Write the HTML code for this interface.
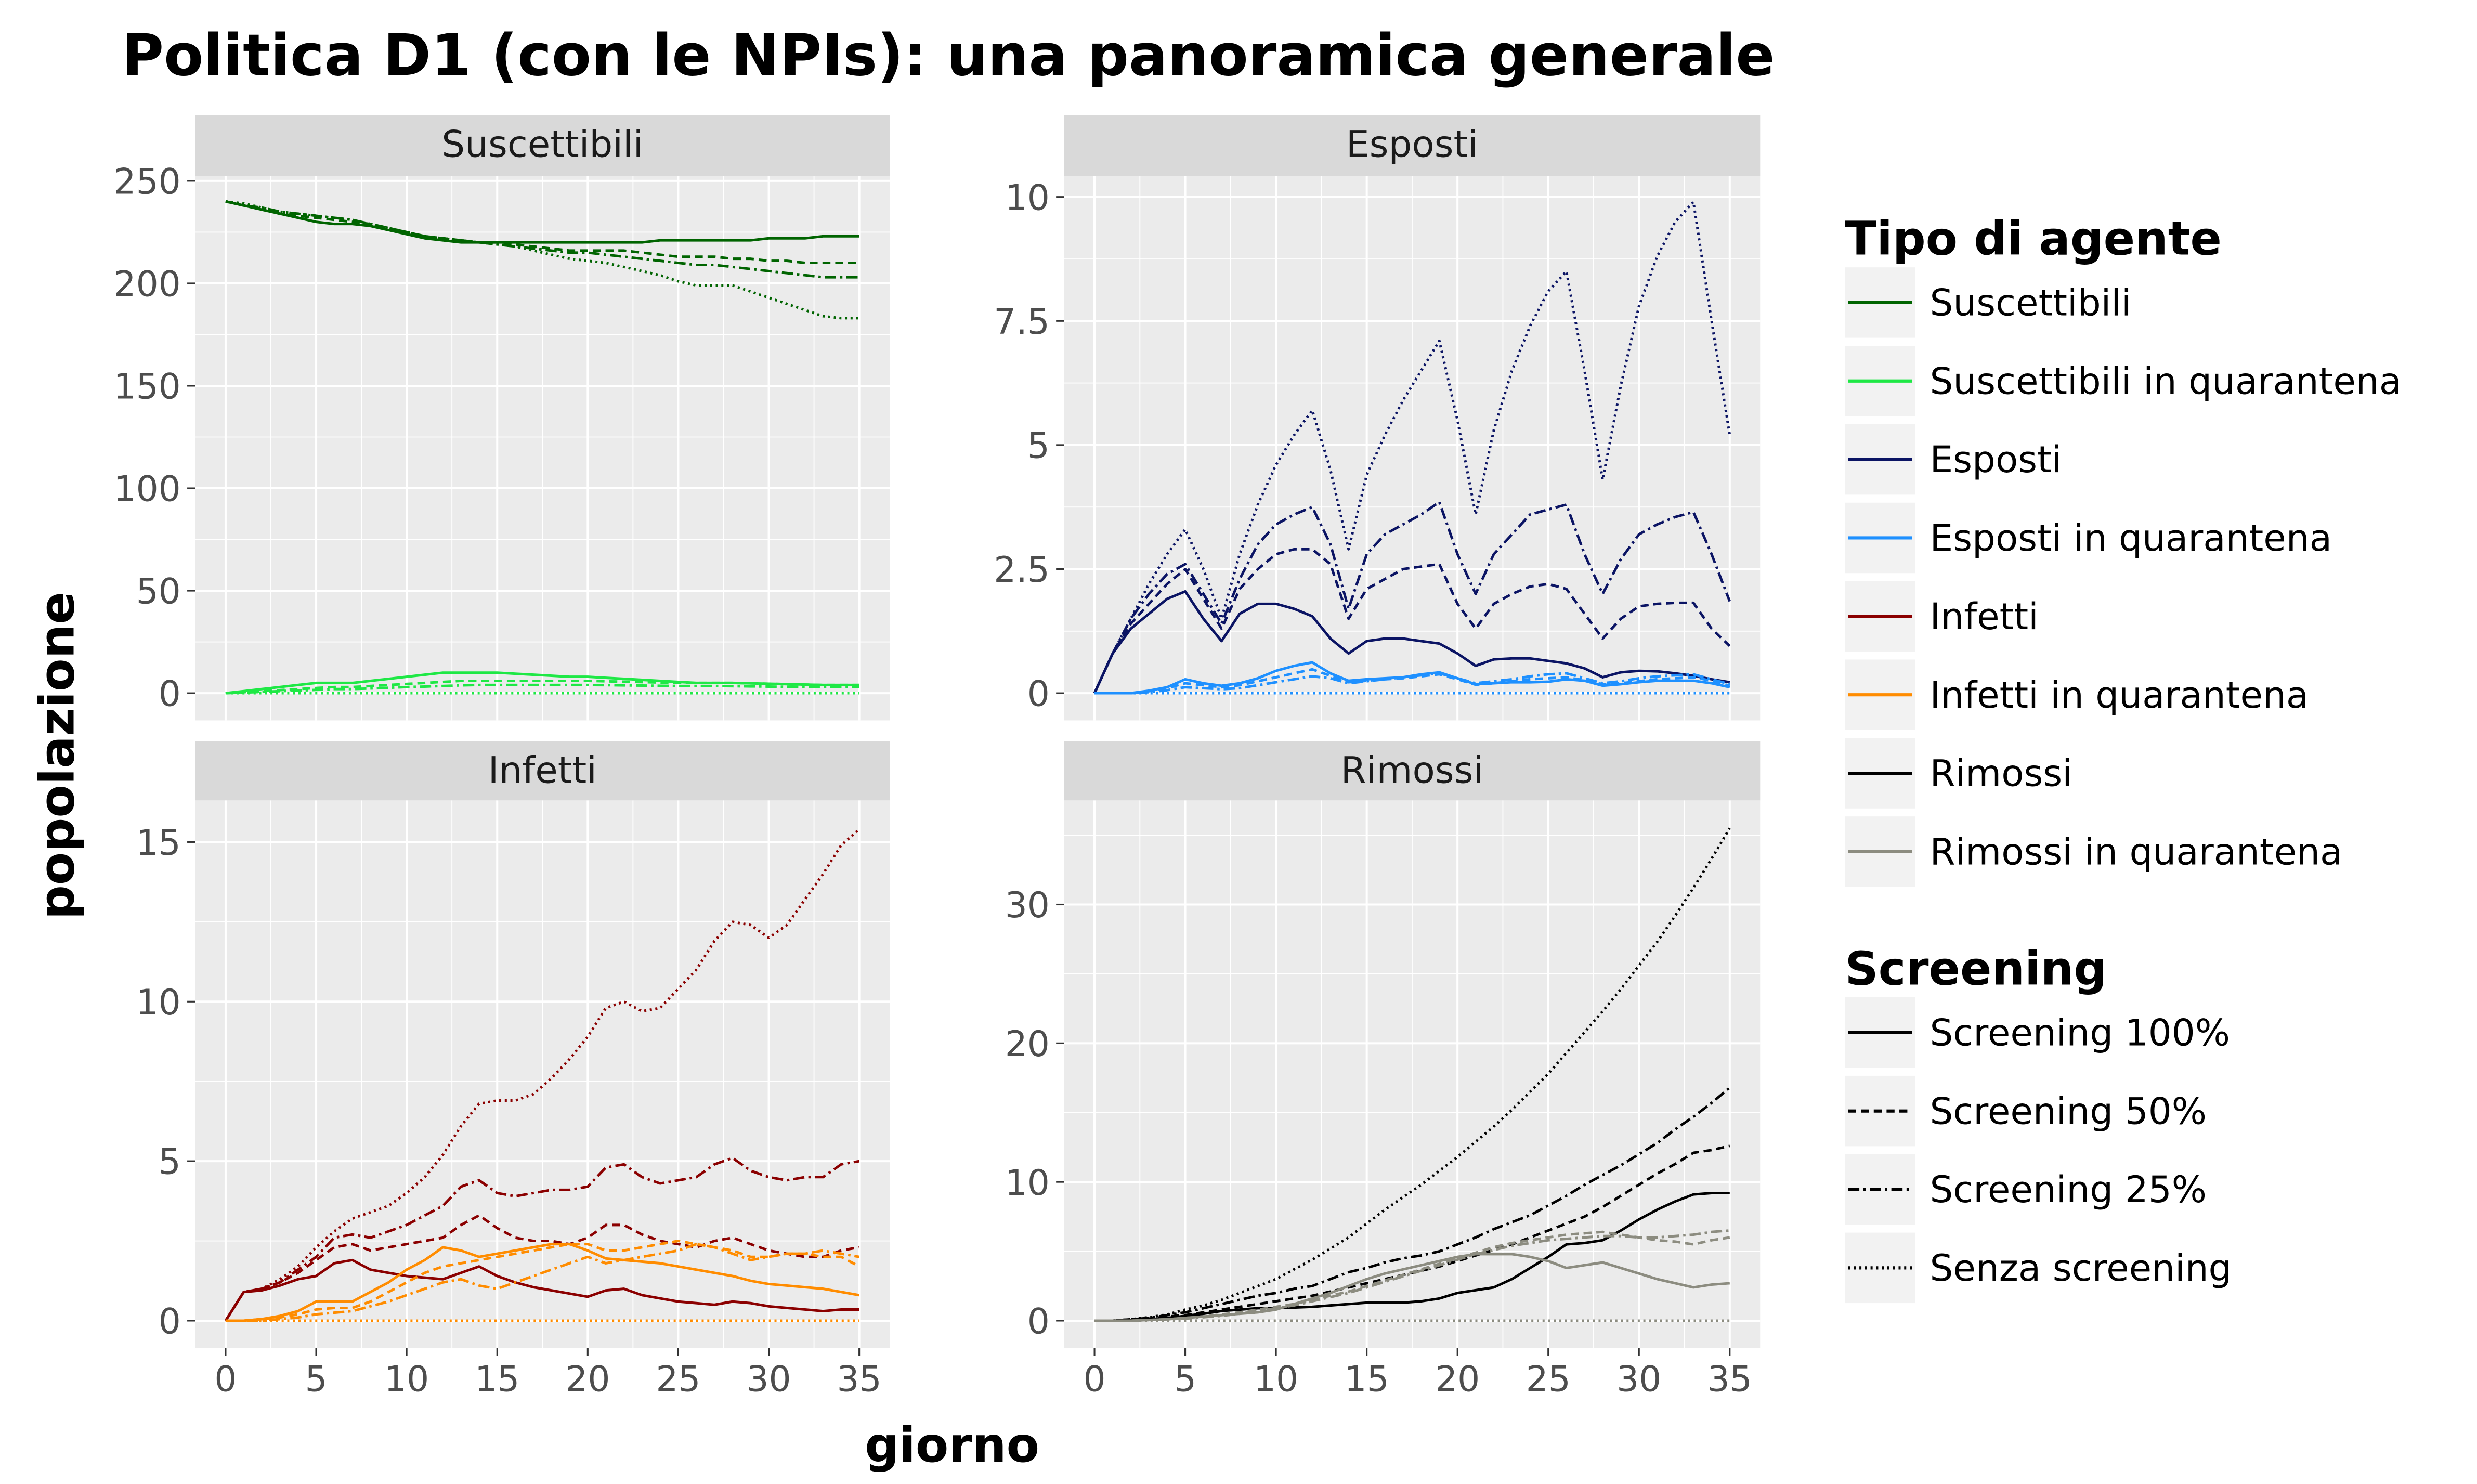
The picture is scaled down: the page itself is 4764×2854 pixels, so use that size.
<!DOCTYPE html>
<html><head><meta charset="utf-8"><style>
html,body{margin:0;padding:0;background:#fff;}
svg{display:block;font-family:"DejaVu Sans","Liberation Sans",sans-serif;}
</style></head><body>
<svg id="chart" xmlns="http://www.w3.org/2000/svg" width="4764" height="2854" viewBox="0 0 1548 927" preserveAspectRatio="none">
<rect x="0" y="0" width="1548" height="927" fill="#fff"/>
<text x="76" y="47" font-size="36" font-weight="bold" fill="#000">Politica D1 (con le NPIs): una panoramica generale</text>
<text transform="translate(46,472) rotate(-90)" text-anchor="middle" font-size="30" font-weight="bold">popolazione</text>
<text x="595" y="913" text-anchor="middle" font-size="30" font-weight="bold">giorno</text>
<g id="panels"></g>
<g id="legend"></g>
</svg>
<script>
const days = [0,1,2,3,4,5,6,7,8,9,10,11,12,13,14,15,16,17,18,19,20,21,22,23,24,25,26,27,28,29,30,31,32,33,34,35];
const xTicks = [0,5,10,15,20,25,30,35];
const scenarioNames = ["Screening 100%","Screening 50%","Screening 25%","Senza screening"];

const susS100 = [240,238,236,234,232,230,229,229,228,226,224,222,221,220,220,220,220,220,220,220,220,220,220,220,221,221,221,221,221,221,222,222,222,223,223,223];
const susS50  = [240,238,236,234,233,232,231,230,229,227,225,223,222,221,220,220,219,218,217,216,216,216,216,215,214,213,213,213,212,212,211,211,210,210,210,210];
const susS25  = [240,238,237,235,234,233,232,231,229,227,225,223,222,221,220,219,218,217,216,215,215,214,213,212,211,210,209,209,208,207,206,205,204,203,203,203];
const susS0   = [240,239,237,235,234,233,232,231,229,227,225,223,222,221,220,219,218,216,214,212,211,210,208,206,204,201,199,199,199,196,193,190,187,184,183,183];
const susQS100 = [0,1,2,3,4,5,5,5,6,7,8,9,10,10,10,10,9.5,9,8.5,8,8,7.5,7,6.5,6,5.5,5,5,5,4.8,4.6,4.4,4.2,4,4,4];
const susQS50  = [0,0.5,1,1.5,2,2.5,3,3,3.5,4,4.5,5,5.5,6,6,6,6,6,6,6,6,5.8,5.6,5.4,5.2,5,5,5,5,4.8,4.6,4.4,4.2,4,4,4];
const susQS25  = [0,0.3,0.6,1,1.3,1.6,2,2,2.3,2.6,3,3.2,3.5,3.8,4,4,4,4,4,4,4,3.9,3.8,3.7,3.6,3.5,3.5,3.5,3.4,3.3,3.2,3.1,3,3,3,3];
const susQS0   = [0,0,0,0,0,0,0,0,0,0,0,0,0,0,0,0,0,0,0,0,0,0,0,0,0,0,0,0,0,0,0,0,0,0,0,0];

const espS0   = [0,0.8,1.5,2.2,2.8,3.3,2.5,1.5,2.8,3.8,4.6,5.2,5.7,4.5,2.9,4.4,5.2,5.9,6.5,7.1,5.5,3.6,5.3,6.5,7.4,8.1,8.5,6.5,4.3,6.2,7.8,8.8,9.5,9.9,7.5,5.2];
const espS25  = [0,0.8,1.5,2.0,2.4,2.6,2.0,1.4,2.3,3.0,3.4,3.6,3.75,3.0,1.7,2.8,3.2,3.4,3.6,3.85,2.8,2.0,2.8,3.2,3.6,3.7,3.8,2.8,2.0,2.7,3.2,3.4,3.55,3.65,2.8,1.85];
const espS50  = [0,0.8,1.4,1.8,2.2,2.5,1.9,1.3,2.1,2.5,2.8,2.9,2.9,2.6,1.5,2.1,2.3,2.5,2.55,2.6,1.8,1.3,1.8,2.0,2.15,2.2,2.1,1.6,1.1,1.5,1.75,1.8,1.82,1.82,1.3,0.95];
const espS100 = [0,0.8,1.3,1.6,1.9,2.05,1.5,1.05,1.6,1.8,1.8,1.7,1.55,1.1,0.8,1.05,1.1,1.1,1.05,1.0,0.8,0.55,0.68,0.7,0.7,0.65,0.6,0.5,0.32,0.42,0.45,0.44,0.4,0.35,0.28,0.22];
const espQS100 = [0,0,0,0.05,0.12,0.28,0.2,0.15,0.2,0.3,0.45,0.55,0.62,0.4,0.25,0.28,0.3,0.32,0.38,0.42,0.3,0.18,0.2,0.22,0.22,0.23,0.28,0.25,0.15,0.18,0.22,0.25,0.25,0.25,0.2,0.12];
const espQS50  = [0,0,0,0.04,0.1,0.2,0.16,0.12,0.16,0.24,0.32,0.4,0.48,0.35,0.22,0.25,0.28,0.3,0.34,0.38,0.28,0.17,0.2,0.24,0.28,0.3,0.32,0.26,0.18,0.2,0.24,0.28,0.3,0.32,0.25,0.15];
const espQS25  = [0,0,0,0.02,0.06,0.12,0.1,0.08,0.1,0.16,0.22,0.28,0.34,0.3,0.2,0.24,0.28,0.32,0.36,0.4,0.3,0.2,0.24,0.28,0.34,0.38,0.4,0.3,0.2,0.24,0.3,0.34,0.36,0.38,0.28,0.18];
const espQS0   = [0,0,0,0,0,0,0,0,0,0,0,0,0,0,0,0,0,0,0,0,0,0,0,0,0,0,0,0,0,0,0,0,0,0,0,0];

const infS0   = [0,0.9,1.0,1.3,1.7,2.3,2.8,3.2,3.4,3.6,4.0,4.5,5.2,6.1,6.8,6.9,6.9,7.1,7.6,8.2,8.9,9.8,10.0,9.7,9.8,10.4,11.0,11.9,12.5,12.4,12.0,12.4,13.2,14.0,14.9,15.4];
const infS25  = [0,0.9,1.0,1.2,1.6,2.0,2.6,2.7,2.6,2.8,3.0,3.3,3.6,4.2,4.4,4.0,3.9,4.0,4.1,4.1,4.2,4.8,4.9,4.5,4.3,4.4,4.5,4.9,5.1,4.7,4.5,4.4,4.5,4.5,4.9,5.0];
const infS50  = [0,0.9,1.0,1.2,1.5,1.9,2.3,2.4,2.2,2.3,2.4,2.5,2.6,3.0,3.3,2.9,2.6,2.5,2.5,2.4,2.6,3.0,3.0,2.7,2.5,2.4,2.3,2.5,2.6,2.4,2.2,2.1,2.0,2.0,2.2,2.3];
const infS100 = [0,0.9,0.95,1.1,1.3,1.4,1.8,1.9,1.6,1.5,1.4,1.35,1.3,1.5,1.7,1.4,1.2,1.05,0.95,0.85,0.75,0.95,1.0,0.8,0.7,0.6,0.55,0.5,0.6,0.55,0.45,0.4,0.35,0.3,0.35,0.35];
const infQS100 = [0,0,0.05,0.15,0.3,0.6,0.6,0.6,0.9,1.2,1.6,1.9,2.3,2.2,2.0,2.1,2.2,2.3,2.4,2.4,2.2,1.95,1.9,1.85,1.8,1.7,1.6,1.5,1.4,1.25,1.15,1.1,1.05,1.0,0.9,0.8];
const infQS50  = [0,0,0.05,0.1,0.2,0.35,0.4,0.4,0.6,0.9,1.2,1.5,1.7,1.8,1.9,2.0,2.1,2.2,2.3,2.4,2.4,2.2,2.2,2.3,2.4,2.5,2.4,2.3,2.2,2.0,2.0,2.1,2.1,2.0,2.0,1.7];
const infQS25  = [0,0,0,0.05,0.1,0.2,0.25,0.3,0.45,0.6,0.8,1.0,1.2,1.3,1.1,1.0,1.2,1.4,1.6,1.8,2.0,1.8,1.9,2.0,2.1,2.2,2.4,2.3,2.1,1.9,2.0,2.1,2.1,2.2,2.1,2.0];
const infQS0   = [0,0,0,0,0,0,0,0,0,0,0,0,0,0,0,0,0,0,0,0,0,0,0,0,0,0,0,0,0,0,0,0,0,0,0,0];

const rimS0   = [0,0,0.1,0.25,0.45,0.8,1.1,1.5,2.0,2.5,3.0,3.7,4.4,5.2,6.0,7.0,8.0,8.9,9.8,10.8,11.8,12.9,14.0,15.2,16.5,17.8,19.3,20.8,22.3,23.9,25.6,27.3,29.2,31.2,33.3,35.5];
const rimS25  = [0,0,0.1,0.2,0.4,0.6,0.9,1.2,1.5,1.8,2.0,2.3,2.5,3.0,3.5,3.8,4.2,4.5,4.7,5.0,5.5,6.0,6.6,7.1,7.6,8.3,9.0,9.8,10.5,11.2,12.0,12.8,13.8,14.7,15.7,16.8];
const rimS50  = [0,0,0.1,0.15,0.3,0.4,0.6,0.8,1.0,1.2,1.4,1.6,1.8,2.1,2.4,2.7,3.0,3.3,3.6,3.9,4.3,4.7,5.1,5.5,6.0,6.5,7.0,7.5,8.2,9.0,9.8,10.6,11.3,12.1,12.3,12.6];
const rimS100 = [0,0,0.05,0.1,0.2,0.35,0.5,0.7,0.8,0.9,0.9,0.95,1.0,1.1,1.2,1.3,1.3,1.3,1.4,1.6,2.0,2.2,2.4,3.0,3.8,4.6,5.5,5.6,5.8,6.5,7.3,8.0,8.6,9.1,9.2,9.2];
const rimQS100 = [0,0,0,0.05,0.1,0.2,0.3,0.4,0.5,0.6,0.8,1.2,1.6,2.0,2.5,3.0,3.4,3.7,4.0,4.3,4.6,4.8,4.8,4.8,4.6,4.3,3.8,4.0,4.2,3.8,3.4,3.0,2.7,2.4,2.6,2.7];
const rimQS50  = [0,0,0,0.05,0.1,0.2,0.3,0.45,0.6,0.8,1.0,1.2,1.5,1.8,2.1,2.5,2.9,3.3,3.7,4.1,4.5,4.9,5.3,5.6,5.8,6.0,6.2,6.3,6.4,6.2,6.0,5.8,5.7,5.5,5.8,6.0];
const rimQS25  = [0,0,0,0.05,0.1,0.15,0.25,0.35,0.5,0.7,0.9,1.1,1.4,1.7,2.0,2.4,2.8,3.2,3.6,4.0,4.4,4.8,5.1,5.4,5.6,5.8,5.9,6.0,6.1,6.1,6.0,6.0,6.1,6.2,6.4,6.5];
const rimQS0   = [0,0,0,0,0,0,0,0,0,0,0,0,0,0,0,0,0,0,0,0,0,0,0,0,0,0,0,0,0,0,0,0,0,0,0,0];

const susTicks = [0,50,100,150,200,250];
const espTicks = [0,2.5,5,7.5,10];
const infTicks = [0,5,10,15];
const rimTicks = [0,10,20,30];

const NS = "http://www.w3.org/2000/svg";
const dashes = ["", "5,3", "7,2.5,1.5,2.5", "1.3,2.2"];
function mk(tag, attrs, parent){ const e=document.createElementNS(NS,tag); for(const k in attrs) e.setAttribute(k,attrs[k]); parent.appendChild(e); return e; }

const panels = [
 {title:"Suscettibili", x0:122,x1:556,y0:110,y1:450, strip:72, ymin:0, ymax:250, yAt0:433, yAtMax:113, ticks:susTicks, minorStep:25, showX:false,
  series:[[susS100,susS50,susS25,susS0,"#006400"],[susQS100,susQS50,susQS25,susQS0,"#1ee845"]]},
 {title:"Esposti", x0:665,x1:1100,y0:110,y1:450, strip:72, ymin:0, ymax:10, yAt0:433, yAtMax:123, ticks:espTicks, minorStep:1.25, showX:false,
  series:[[espS100,espS50,espS25,espS0,"#0b1464"],[espQS100,espQS50,espQS25,espQS0,"#1e90ff"]]},
 {title:"Infetti", x0:122,x1:556,y0:500,y1:842, strip:463, ymin:0, ymax:15, yAt0:825, yAtMax:526, ticks:infTicks, minorStep:2.5, showX:true,
  series:[[infS100,infS50,infS25,infS0,"#8b0000"],[infQS100,infQS50,infQS25,infQS0,"#ff8c00"]]},
 {title:"Rimossi", x0:665,x1:1100,y0:500,y1:842, strip:463, ymin:0, ymax:30, yAt0:825, yAtMax:565, ticks:rimTicks, minorStep:5, showX:true,
  series:[[rimS100,rimS50,rimS25,rimS0,"#000000"],[rimQS100,rimQS50,rimQS25,rimQS0,"#8c8c80"]]}
];
const G = document.getElementById("panels");
panels.forEach(p=>{
  const g = mk("g",{},G);
  
  
  const xs = d => p.x0 + 19 + d*(p.x1-p.x0-38)/35;
  const ys = v => p.yAt0 + (v-p.ymin)*(p.yAtMax-p.yAt0)/(p.ymax-p.ymin);
  const st = mk("rect",{x:p.x0,y:p.strip,width:p.x1-p.x0,height:p.y0-p.strip,fill:"#d9d9d9"},g);
  
  
  const stt = mk("text",{x:(p.x0+p.x1)/2,y:p.strip+26,"text-anchor":"middle","font-size":23,fill:"#1a1a1a"},g);
  stt.textContent = p.title;
  
  
  const bg = mk("rect",{x:p.x0,y:p.y0,width:p.x1-p.x0,height:p.y1-p.y0,fill:"#ebebeb"},g);
  
  
  for(let v=p.ymin-p.minorStep; v<=p.ymax+p.minorStep*3; v+=p.minorStep){
    const y=ys(v); if(y<p.y0||y>p.y1) continue;
    const isMajor = p.ticks.some(t=>Math.abs(t-v)<1e-9);
    const l=mk("line",{x1:p.x0,x2:p.x1,y1:y,y2:y,stroke:"#fff","stroke-width":isMajor?1.3:0.6},g);
    
    
  }
  for(let d=0; d<=35; d+=2.5){
    const x=xs(d); const isMajor = d%5===0;
    const l=mk("line",{x1:x,x2:x,y1:p.y0,y2:p.y1,stroke:"#fff","stroke-width":isMajor?1.3:0.6},g);
    
    
  }
  p.ticks.forEach(t=>{
    const y=ys(t);
    const tk=mk("line",{x1:p.x0-5,x2:p.x0,y1:y,y2:y,stroke:"#333","stroke-width":1},g);
    
    
    const tl=mk("text",{x:p.x0-9,y:y+8,"text-anchor":"end","font-size":22,fill:"#4d4d4d"},g);
    tl.textContent = String(t);
    
    
  });
  if(p.showX){
    xTicks.forEach(d=>{
      const x=xs(d);
      const tk=mk("line",{x1:x,x2:x,y1:p.y1,y2:p.y1+5,stroke:"#333","stroke-width":1},g);
      
      
      const tl=mk("text",{x:x,y:p.y1+27,"text-anchor":"middle","font-size":22,fill:"#4d4d4d"},g);
      tl.textContent = String(d);
      
      
    });
  }
  p.series.forEach((grp,gi)=>{
    const color = grp[4];
    for(let s=0;s<4;s++){
      const vals = grp[s];
      const pts = days.map((d,i)=>xs(d).toFixed(2)+","+ys(vals[i]).toFixed(2)).join(" ");
      const pl = mk("polyline",{points:pts,fill:"none",stroke:color,"stroke-width":1.6,"stroke-dasharray":dashes[s],"stroke-linejoin":"round"},g);
      
      
    }
  });
});

const agentLabels = ["Suscettibili","Suscettibili in quarantena","Esposti","Esposti in quarantena","Infetti","Infetti in quarantena","Rimossi","Rimossi in quarantena"];
const agentColors = ["#006400","#1ee845","#0b1464","#1e90ff","#8b0000","#ff8c00","#000000","#8c8c80"];
const L = document.getElementById("legend");
const t1 = mk("text",{x:1153,y:159,"font-size":29,"font-weight":"bold"},L);
t1.textContent="Tipo di agente";


agentLabels.forEach((lab,i)=>{
  const cy = 189 + i*49;
  const g = mk("g",{},L);
  
  
  mk("rect",{x:1153,y:cy-22,width:44,height:44,fill:"#f2f2f2"},g);
  mk("line",{x1:1155,x2:1195,y1:cy,y2:cy,stroke:agentColors[i],"stroke-width":2},g);
  const tx = mk("text",{x:1206,y:cy+8,"font-size":23,fill:"#000"},g);
  tx.textContent = lab;
});
const t2 = mk("text",{x:1153,y:615,"font-size":29,"font-weight":"bold"},L);
t2.textContent="Screening";


scenarioNames.forEach((lab,i)=>{
  const cy = 645 + i*49;
  const g = mk("g",{},L);
  
  
  mk("rect",{x:1153,y:cy-22,width:44,height:44,fill:"#f2f2f2"},g);
  mk("line",{x1:1155,x2:1195,y1:cy,y2:cy,stroke:"#000","stroke-width":2,"stroke-dasharray":dashes[i]},g);
  const tx = mk("text",{x:1206,y:cy+8,"font-size":23,fill:"#000"},g);
  tx.textContent = lab;
});
</script>
</body></html>
